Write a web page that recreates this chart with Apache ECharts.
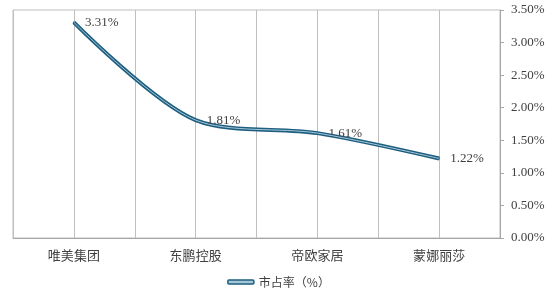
<!DOCTYPE html>
<html>
<head>
<meta charset="utf-8">
<script src="https://cdn.jsdelivr.net/npm/echarts@6/dist/echarts.min.js"></script>
<style>
html,body{margin:0;padding:0;background:#fff;}
#c{width:557px;height:297px;}
</style>
</head>
<body>
<div id="c"></div>
<script>
const categories = ['唯美集团', '东鹏控股', '帝欧家居', '蒙娜丽莎'];
const shareValues = [3.31, 1.81, 1.61, 1.22];
const seriesName = '市占率（%）';
const gridCats = ['', '', '', '', '', '', '', ''];

const chart = echarts.init(document.getElementById('c'), null, {renderer: 'canvas'});
const dark = '#1E5F80';
const light = '#A7C6D8';
const textColor = '#404040';
chart.setOption({
  animation: false,
  grid: {left: 13, right: 57, top: 10, bottom: 59, show: true, borderColor: '#BFBFBF', borderWidth: 1},
  legend: {
    bottom: 4, left: 'center',
    data: [{name: seriesName, icon: 'roundRect', itemStyle: {color: light, borderColor: dark, borderWidth: 1.5}}],
    itemWidth: 26, itemHeight: 4, itemGap: 4,
    textStyle: {color: textColor, fontSize: 12, fontFamily: 'Noto Sans CJK SC'}
  },
  xAxis: [{
    type: 'category', data: categories, boundaryGap: true,
    axisLine: {lineStyle: {color: '#A6A6A6'}},
    axisTick: {show: false},
    splitLine: {show: true, lineStyle: {color: '#BFBFBF'}},
    axisLabel: {color: textColor, fontSize: 13, fontFamily: 'Noto Sans CJK SC', margin: 11}
  }, {
    type: 'category', data: gridCats, boundaryGap: true, position: 'bottom',
    axisLine: {show: false}, axisTick: {show: false}, axisLabel: {show: false},
    splitLine: {show: true, lineStyle: {color: '#BFBFBF'}}
  }],
  yAxis: {
    type: 'value', position: 'right', min: 0, max: 3.5, interval: 0.5,
    axisLine: {show: true, lineStyle: {color: '#A6A6A6'}},
    axisTick: {show: true, length: 4, lineStyle: {color: '#A6A6A6'}},
    splitLine: {show: false},
    axisLabel: {color: textColor, fontSize: 13, fontFamily: 'Liberation Serif', margin: 11,
      formatter: v => v.toFixed(2) + '%'}
  },
  series: [{
    name: seriesName, type: 'line', data: shareValues, smooth: 0.3,
    symbol: 'circle', symbolSize: 2, showSymbol: true, z: 2,
    lineStyle: {color: dark, width: 4},
    itemStyle: {color: dark},
    label: {show: true, position: 'right', distance: 10, color: textColor, fontSize: 13,
      fontFamily: 'Liberation Serif', formatter: p => p.value.toFixed(2) + '%'}
  }, {
    name: 'stripe', type: 'line', data: shareValues, smooth: 0.3,
    symbol: 'none', z: 3, silent: true,
    lineStyle: {color: light, width: 1}
  }]
});
</script>
</body>
</html>
